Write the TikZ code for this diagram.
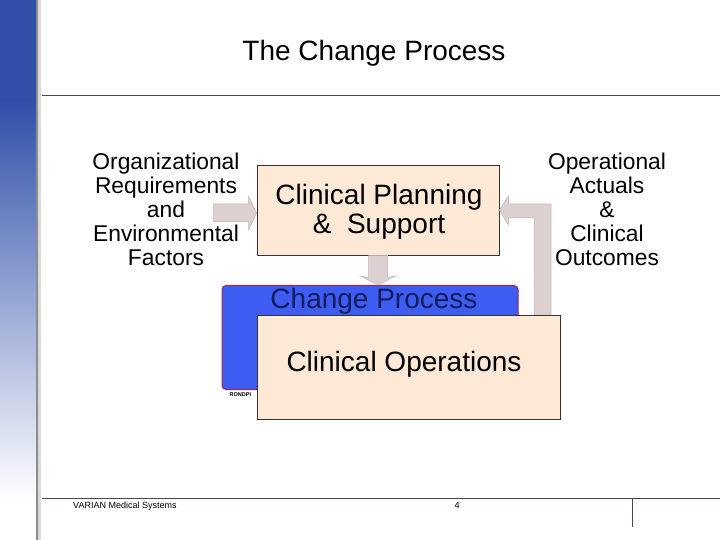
\documentclass[tikz,border=0pt]{standalone}
\usepackage{fontspec}
\setmainfont{Liberation Sans}
\usetikzlibrary{calc}
\definecolor{stripblue}{HTML}{2F4FA9}
\definecolor{peach}{HTML}{FDE9D5}
\definecolor{arrowfill}{HTML}{DCD0D0}
\definecolor{arrowline}{HTML}{BFB3B3}
\definecolor{ruleline}{HTML}{3E4A5C}
\definecolor{cpblue}{HTML}{3D5CF2}
\definecolor{cpborder}{HTML}{A0284E}
\definecolor{cpnavy}{HTML}{141C5A}
\tikzset{
  peachbox/.style={draw=black!80, line width=0.8bp, fill=peach, rectangle, inner sep=0pt},
  bigtext/.style={font=\fontsize{28bp}{29bp}\selectfont, align=center, inner sep=0pt},
  sidetext/.style={font=\fontsize{22.8bp}{24bp}\selectfont, align=center, inner sep=0pt},
  blockarrow/.style={fill=arrowfill, draw=arrowline, line width=0.5bp},
  rule/.style={draw=ruleline, line width=1bp},
}
\begin{document}
\begin{tikzpicture}[x=1bp, y=-1bp]
\useasboundingbox (0,0) rectangle (720,540);
\fill[white] (0,0) rectangle (720,540);
% left strip
\fill[stripblue] (0,0) rectangle (36,100);
\shade[top color=stripblue, bottom color=white] (0,100) rectangle (36,500);
\fill[white] (0,500) rectangle (36,540);
\fill[black!45] (36,0) rectangle (38,540);
\fill[black!15] (38,0) rectangle (41,540);
% rules
\draw[rule] (42,96) -- (720,96);
\draw[rule] (42,498) -- (720,498);
\coordinate (vtop) at (632,498);
\coordinate (vbot) at (632,527);
\draw[rule] (vtop) -- (vbot);
% title
\node[font=\fontsize{28bp}{30bp}\selectfont, inner sep=0pt] (title) at (374,53) {The Change Process};
% side texts
\node[sidetext] (org) at (166,209.5) {Organizational\\Requirements\\and\\Environmental\\Factors};
\node[sidetext] (ops) at (607,209.5) {Operational\\Actuals\\\&\\Clinical\\Outcomes};
% clinical planning box
\node[peachbox, minimum width=242bp, minimum height=90bp] (cps) at (378,210) {};
\node[bigtext] (cpstext) at (379,211.5) {Clinical Planning\\\& \ Support};
% left block arrow
\coordinate (ltip) at ($(cps.west)+(0,3)$);
\draw[blockarrow] ($(ltip)+(-43,-9)$) -- ($(ltip)+(-8,-9)$) -- ($(ltip)+(-8,-17)$) -- (ltip)
  -- ($(ltip)+(-8,17)$) -- ($(ltip)+(-8,9)$) -- ($(ltip)+(-43,9)$) -- cycle;
% blue change process box
\node[draw=cpborder, line width=1bp, fill=cpblue, rounded corners=4bp, minimum width=296bp, minimum height=104bp, inner sep=0pt] (cp) at (370,337.5) {};
\node[bigtext, text=cpnavy] (cptext) at ($(cp.north)+(4,16.5)$) {Change Process};
\node[font=\bfseries\fontsize{5.5bp}{6bp}\selectfont, inner sep=0pt, anchor=west] (rondpi) at ($(cp.south west)+(8,4.5)$) {RONDPI};
% down block arrow
\coordinate (dtip) at (cps.south |- cp.north);
\draw[blockarrow] ($(cps.south)+(-9.5,0)$) -- ($(cps.south)+(-9.5,22)$) -- ($(dtip)+(-17.5,-9)$) -- (dtip)
  -- ($(dtip)+(17.5,-9)$) -- ($(cps.south)+(9.5,22)$) -- ($(cps.south)+(9.5,0)$) -- cycle;
% feedback arrow
\coordinate (rtip) at (cps.east);
\coordinate (rbase) at (542.5,315);
\coordinate (router) at (551,204);
\coordinate (rinner) at (534,218);
\draw[blockarrow] ($(rbase)+(8.5,0)$) -- (router) -- ($(rtip)+(9,-6)$) -- ($(rtip)+(9,-14)$) -- (rtip)
  -- ($(rtip)+(9,15)$) -- ($(rtip)+(9,8)$) -- (rinner) -- ($(rbase)+(-8.5,0)$) -- cycle;
% clinical operations box
\node[peachbox, minimum width=303bp, minimum height=104bp] (co) at (408.5,367) {};
\node[bigtext] (cotext) at (404,364) {Clinical Operations};
% footer
\node[font=\fontsize{9bp}{10bp}\selectfont, inner sep=0pt, anchor=west] (varian) at (73,506) {VARIAN Medical Systems};
\node[font=\fontsize{9bp}{10bp}\selectfont, inner sep=0pt] (pagenum) at (457,505) {4};
\end{tikzpicture}
\end{document}
